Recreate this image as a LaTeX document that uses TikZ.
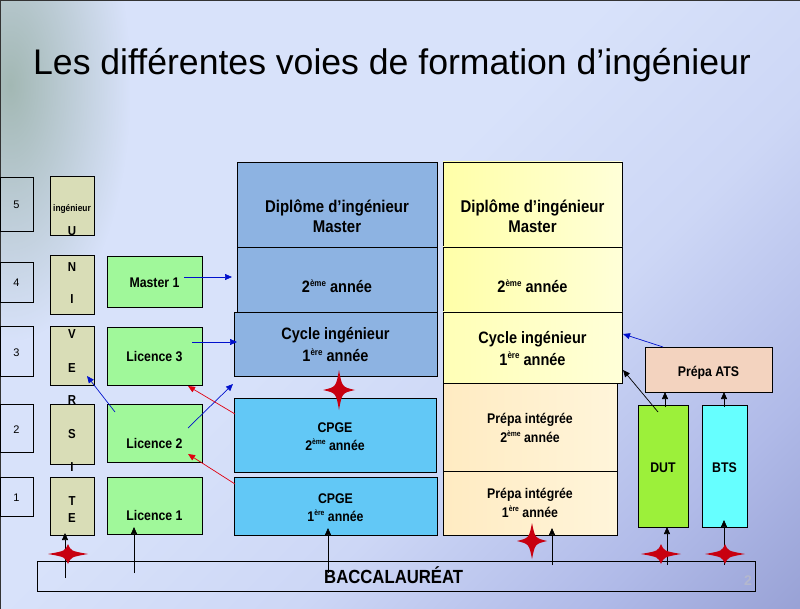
\documentclass[tikz,border=0pt]{standalone}
\usepackage{fontspec}
\setmainfont{Liberation Sans}
\newfontfamily\bcf[FakeStretch=0.88]{Liberation Sans}
\usetikzlibrary{arrows.meta,fadings}
\definecolor{bgA}{HTML}{D8E2FA}
\definecolor{bgB}{HTML}{CDD7F6}
\definecolor{bgC}{HTML}{B0BAE8}
\definecolor{bgD}{HTML}{7880BC}
\definecolor{tint}{HTML}{8CA696}
\definecolor{univC}{HTML}{D9DDB7}
\definecolor{greenC}{HTML}{A0F89A}
\definecolor{blueC}{HTML}{8DB3E2}
\definecolor{cpgeC}{HTML}{62C8F6}
\definecolor{yelA}{HTML}{FFFFA8}
\definecolor{yelB}{HTML}{FFFFD8}
\definecolor{prepA}{HTML}{FFEBC2}
\definecolor{prepB}{HTML}{FFF5DA}
\definecolor{atsC}{HTML}{F3D3BF}
\definecolor{dutC}{HTML}{9CF03A}
\definecolor{btsC}{HTML}{66FFFF}
\definecolor{arBlue}{HTML}{0010CC}
\definecolor{arRed}{HTML}{E00010}
\definecolor{starC}{HTML}{C80010}
\definecolor{faint}{HTML}{B4B8CE}
\pgfdeclarehorizontalshading{bgshade}{100bp}{color(0bp)=(bgA); color(45bp)=(bgA); color(60bp)=(bgB); color(75bp)=(bgC); color(100bp)=(bgD)}
\tikzfading[name=tlfade, inner color=transparent!0, outer color=transparent!100]
\newcommand\ex[1]{\raisebox{0.42em}{\scalebox{0.55}{#1}}}
\newcommand\mybox[6]{\node[bx,#6,minimum width=#4pt-#2pt,minimum height=#5pt-#3pt] (#1) at (#2,#3) {};}
\newcommand\mystar[5]{\fill[starC] (#2+#4,#3) .. controls (#2+3,#3+3) .. (#2,#3+#5) .. controls (#2-3,#3+3) .. (#2-#4,#3) .. controls (#2-3,#3-3) .. (#2,#3-#5) .. controls (#2+3,#3-3) .. cycle;}
\begin{document}
\begin{tikzpicture}[x=1pt,y=-1pt,
  bx/.style={draw=black,line width=0.8pt,inner sep=0pt,outer sep=0pt,anchor=north west},
  lbl/.style={inner sep=0pt,anchor=base,font=\bcf\bfseries\fontsize{14}{16}\selectfont},
  biglbl/.style={lbl,font=\bcf\bfseries\fontsize{16.5}{19}\selectfont},
  diplbl/.style={lbl,font=\bcf\bfseries\fontsize{17}{20}\selectfont},
  letlbl/.style={lbl,font=\bcf\bfseries\fontsize{13}{15}\selectfont},
  diglbl/.style={inner sep=0pt,anchor=base,font=\fontsize{11}{13}\selectfont},
  arB/.style={draw=arBlue,line width=0.7pt,-{Triangle[length=7pt,width=6pt]}},
  arR/.style={draw=arRed,line width=0.7pt,-{Triangle[length=7pt,width=6pt]}},
  arK/.style={draw=black,line width=0.7pt,-{Triangle[length=7pt,width=6pt]}}]
\useasboundingbox (0,0) rectangle (800,609);
% background
\shade[shading=bgshade,shading angle=-45] (0,0) rectangle (800,609);
\fill[tint,path fading=tlfade,opacity=0.7] (-110,-170) rectangle (130,340);
\draw[black!80,line width=2pt] (0,0) -- (800,0);
\draw[black!80,line width=1.5pt] (0,0) -- (0,609);
% title
\node[anchor=base west,inner sep=0pt,font=\fontsize{35.6}{40}\selectfont] (title) at (33,75) {Les différentes voies de formation d’ingénieur};
% level boxes
\mybox{lv5}{0}{177}{33}{231}{}
\mybox{lv4}{0}{262}{33}{302}{}
\mybox{lv3}{0}{326}{33}{376}{}
\mybox{lv2}{0}{404}{33}{452}{}
\mybox{lv1}{0}{477}{33}{516}{}
\node[diglbl] (d5) at (16.5,209) {5};
\node[diglbl] (d4) at (16.5,287) {4};
\node[diglbl] (d3) at (16.5,356) {3};
\node[diglbl] (d2) at (16.5,433) {2};
\node[diglbl] (d1) at (16.5,501) {1};
% universite column
\mybox{uA}{50}{176}{94}{235}{fill=univC}
\mybox{uB}{50}{255}{94}{314}{fill=univC}
\mybox{uC}{50}{326}{94}{385}{fill=univC}
\mybox{uD}{50}{404}{94}{464}{fill=univC}
\mybox{uE}{50}{477}{94}{535}{fill=univC}
\node[lbl,font=\bcf\bfseries\fontsize{9.5}{11}\selectfont] (ing) at (72,212) {ingénieur};
\node[letlbl] (uU) at (72,236) {U};
\node[letlbl] (uN) at (72,272) {N};
\node[letlbl] (uI) at (72,304) {I};
\node[letlbl] (uV) at (72,338) {V};
\node[letlbl] (uE1) at (72,372) {E};
\node[letlbl] (uR) at (72,404) {R};
\node[letlbl] (uS) at (72,438) {S};
\node[letlbl] (uI2) at (72,471) {I};
\node[letlbl] (uT) at (72,505) {T};
\node[letlbl] (uE2) at (72,522) {E};
% green column
\mybox{m1}{107}{256}{202}{307}{fill=greenC}
\mybox{l3}{107}{327}{202}{385}{fill=greenC}
\mybox{l2}{107}{404}{202}{462}{fill=greenC}
\mybox{l1}{107}{477}{202}{534}{fill=greenC}
\node[lbl] (tm1) at (154.5,288) {Master 1};
\node[lbl] (tl3) at (154.5,361) {Licence 3};
\node[lbl] (tl2) at (154.5,448) {Licence 2};
\node[lbl] (tl1) at (154.5,520) {Licence 1};
% blue column
\mybox{bDip}{237}{162}{437}{247}{fill=blueC}
\mybox{bTwo}{237}{247}{437}{313}{fill=blueC}
\mybox{bCyc}{234}{312}{437}{376}{fill=blueC}
\mybox{cpgeB}{234}{398}{436}{472}{fill=cpgeC}
\mybox{cpgeA}{234}{477}{437}{535}{fill=cpgeC}
\node[diplbl] (tbd1) at (337,213) {Diplôme d’ingénieur};
\node[diplbl] (tbd2) at (337,233) {Master};
\node[biglbl] (tb2) at (337,293) {2\ex{ème} année};
\node[biglbl] (tbc1) at (335.5,339) {Cycle ingénieur};
\node[biglbl] (tbc2) at (335.5,362) {1\ex{ère} année};
\node[lbl] (tcb1) at (335,432) {CPGE};
\node[lbl] (tcb2) at (335,450) {2\ex{ème} année};
\node[lbl] (tca1) at (335.5,503) {CPGE};
\node[lbl] (tca2) at (335.5,521) {1\ex{ère} année};
% yellow column
\mybox{yDip}{443}{162}{622}{247}{left color=yelA,right color=yelB}
\mybox{yTwo}{443}{247}{622}{312}{left color=yelA,right color=yelB}
\mybox{yCyc}{443}{312}{622}{383}{left color=yelA!70!yelB,right color=yelB}
\mybox{piB}{443}{383}{617}{471}{left color=prepA,right color=prepB}
\mybox{piA}{443}{471}{617}{535}{left color=prepA,right color=prepB}
\node[diplbl] (tyd1) at (532.5,213) {Diplôme d’ingénieur};
\node[diplbl] (tyd2) at (532.5,233) {Master};
\node[biglbl] (ty2) at (532.5,293) {2\ex{ème} année};
\node[biglbl] (tyc1) at (532.5,344) {Cycle ingénieur};
\node[biglbl] (tyc2) at (532.5,365) {1\ex{ère} année};
\node[lbl] (tpb1) at (530,423) {Prépa intégrée};
\node[lbl] (tpb2) at (530,442) {2\ex{ème} année};
\node[lbl] (tpa1) at (530,498) {Prépa intégrée};
\node[lbl] (tpa2) at (530,517) {1\ex{ère} année};
% right side
\mybox{ats}{645}{347}{772}{392}{fill=atsC}
\mybox{dut}{638}{405}{688}{527}{fill=dutC}
\mybox{bts}{702}{405}{747}{527}{fill=btsC}
\node[lbl] (tats) at (708.5,376) {Prépa ATS};
\node[lbl] (tdut) at (663,472) {DUT};
\node[lbl] (tbts) at (724.5,472) {BTS};
% baccalaureat
\mybox{bac}{37}{561}{755}{591}{}
\node[inner sep=0pt,anchor=base west,font=\bcf\bfseries\fontsize{19}{22}\selectfont] (tbac) at (324,583) {BACCALAURÉAT};
\node[inner sep=0pt,anchor=base,text=faint,font=\bfseries\fontsize{14}{16}\selectfont] (pnum) at (748,585) {2};
% arrow end points
\coordinate (a1s) at (184,277); \coordinate (a1e) at (232,277);
\coordinate (a2s) at (192,342); \coordinate (a2e) at (237,342);
\coordinate (a3s) at (188,428); \coordinate (a3e) at (233,384);
\coordinate (a4s) at (115,412); \coordinate (a4e) at (87,376);
\coordinate (a5s) at (663,347); \coordinate (a5e) at (623,334);
\coordinate (r1s) at (235,414); \coordinate (r1e) at (188,386);
\coordinate (r2s) at (235,484); \coordinate (r2e) at (188,454);
\coordinate (k1s) at (65,578);  \coordinate (k1e) at (65,533);
\coordinate (k2s) at (134,573); \coordinate (k2e) at (134,527);
\coordinate (k3s) at (328,573); \coordinate (k3e) at (328,528);
\coordinate (k4s) at (552,565); \coordinate (k4e) at (552,528);
\coordinate (k5s) at (667,565); \coordinate (k5e) at (667,527);
\coordinate (k6s) at (724,565); \coordinate (k6e) at (724,520);
\coordinate (k7s) at (665,407); \coordinate (k7e) at (665,392);
\coordinate (k8s) at (724,407); \coordinate (k8e) at (724,392);
\coordinate (k9s) at (658,412); \coordinate (k9e) at (623,370);
% arrows
\draw[arB] (a1s) -- (a1e);
\draw[arB] (a2s) -- (a2e);
\draw[arB] (a3s) -- (a3e);
\draw[arB] (a4s) -- (a4e);
\draw[arB] (a5s) -- (a5e);
\draw[arR] (r1s) -- (r1e);
\draw[arR] (r2s) -- (r2e);
\draw[arK] (k1s) -- (k1e);
\draw[arK] (k2s) -- (k2e);
\draw[arK] (k3s) -- (k3e);
\draw[arK] (k4s) -- (k4e);
\draw[arK] (k5s) -- (k5e);
\draw[arK] (k6s) -- (k6e);
\draw[arK] (k7s) -- (k7e);
\draw[arK] (k8s) -- (k8e);
\draw[arK] (k9s) -- (k9e);
% stars
\mystar{s1}{68}{554}{20}{10}
\mystar{s2}{339}{390}{16}{20}
\mystar{s3}{532}{541}{15}{18}
\mystar{s4}{661}{554}{20}{10}
\mystar{s5}{725}{554}{20}{10}
\end{tikzpicture}
\end{document}
